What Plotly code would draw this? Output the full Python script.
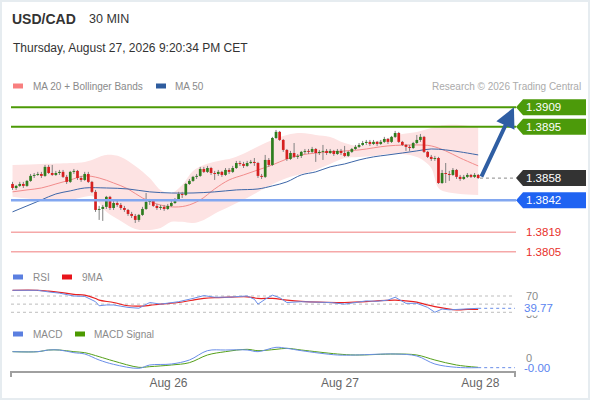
import plotly.graph_objects as go

# USD/CAD 30 min candles, index 0 = first bar on the left
opens = [
    1.38538, 1.38509, 1.38524, 1.38538, 1.38524, 1.38560, 1.38596, 1.38603, 1.38610, 1.38596,
    1.38661, 1.38617, 1.38603, 1.38617, 1.38625, 1.38589, 1.38553, 1.38625, 1.38632, 1.38581,
    1.38567, 1.38610, 1.38553, 1.38481, 1.38351, 1.38358, 1.38373, 1.38445, 1.38365, 1.38401,
    1.38387, 1.38365, 1.38351, 1.38322, 1.38308, 1.38279, 1.38315, 1.38358, 1.38409, 1.38416,
    1.38380, 1.38365, 1.38373, 1.38358, 1.38380, 1.38401, 1.38423, 1.38466, 1.38459, 1.38538,
    1.38560, 1.38589, 1.38596, 1.38646, 1.38625, 1.38653, 1.38617, 1.38610, 1.38625, 1.38603,
    1.38639, 1.38625, 1.38653, 1.38689, 1.38682, 1.38668, 1.38689, 1.38697, 1.38689, 1.38596,
    1.38589, 1.38711, 1.38675, 1.38869, 1.38913, 1.38855, 1.38783, 1.38718, 1.38761, 1.38733,
    1.38740, 1.38769, 1.38776, 1.38769, 1.38790, 1.38761, 1.38769, 1.38776, 1.38761, 1.38776,
    1.38754, 1.38776, 1.38761, 1.38740, 1.38769, 1.38790, 1.38805, 1.38819, 1.38833, 1.38841,
    1.38826, 1.38841, 1.38826, 1.38841, 1.38862, 1.38841, 1.38877, 1.38905, 1.38841, 1.38819,
    1.38805, 1.38797, 1.38833, 1.38855, 1.38877, 1.38769, 1.38733, 1.38718, 1.38725, 1.38545,
    1.38617, 1.38610, 1.38603, 1.38639, 1.38589, 1.38574, 1.38589, 1.38603, 1.38589, 1.38603,
]
highs = [
    1.38553, 1.38531, 1.38553, 1.38553, 1.38567, 1.38610, 1.38617, 1.38625, 1.38625, 1.38675,
    1.38675, 1.38675, 1.38632, 1.38639, 1.38639, 1.38603, 1.38632, 1.38646, 1.38639, 1.38596,
    1.38625, 1.38625, 1.38560, 1.38495, 1.38380, 1.38387, 1.38452, 1.38452, 1.38416, 1.38416,
    1.38401, 1.38380, 1.38358, 1.38337, 1.38322, 1.38322, 1.38373, 1.38473, 1.38430, 1.38423,
    1.38394, 1.38387, 1.38387, 1.38394, 1.38416, 1.38437, 1.38481, 1.38481, 1.38545, 1.38574,
    1.38596, 1.38610, 1.38661, 1.38661, 1.38668, 1.38661, 1.38632, 1.38639, 1.38632, 1.38653,
    1.38653, 1.38668, 1.38704, 1.38704, 1.38697, 1.38704, 1.38711, 1.38725, 1.38697, 1.38610,
    1.38747, 1.38725, 1.38877, 1.38927, 1.38920, 1.38862, 1.38790, 1.38776, 1.38833, 1.38754,
    1.38776, 1.38790, 1.38790, 1.38805, 1.38797, 1.38783, 1.38819, 1.38790, 1.38790, 1.38783,
    1.38790, 1.38790, 1.38812, 1.38776, 1.38797, 1.38819, 1.38833, 1.38848, 1.38855, 1.38855,
    1.38855, 1.38848, 1.38855, 1.38877, 1.38869, 1.38884, 1.38920, 1.38913, 1.38848, 1.38826,
    1.38819, 1.38841, 1.38891, 1.38898, 1.38884, 1.38776, 1.38747, 1.38740, 1.38733, 1.38639,
    1.38689, 1.38632, 1.38653, 1.38646, 1.38603, 1.38603, 1.38617, 1.38610, 1.38617, 1.38610,
]
lows = [
    1.38495, 1.38495, 1.38517, 1.38509, 1.38517, 1.38553, 1.38581, 1.38596, 1.38581, 1.38589,
    1.38610, 1.38596, 1.38596, 1.38603, 1.38581, 1.38538, 1.38545, 1.38610, 1.38567, 1.38553,
    1.38560, 1.38545, 1.38473, 1.38337, 1.38279, 1.38272, 1.38358, 1.38351, 1.38351, 1.38373,
    1.38351, 1.38337, 1.38308, 1.38293, 1.38257, 1.38265, 1.38308, 1.38351, 1.38387, 1.38373,
    1.38351, 1.38351, 1.38344, 1.38351, 1.38373, 1.38394, 1.38416, 1.38437, 1.38452, 1.38531,
    1.38553, 1.38574, 1.38589, 1.38617, 1.38617, 1.38603, 1.38567, 1.38596, 1.38589, 1.38596,
    1.38610, 1.38617, 1.38646, 1.38668, 1.38653, 1.38661, 1.38682, 1.38668, 1.38581, 1.38574,
    1.38581, 1.38661, 1.38668, 1.38862, 1.38848, 1.38769, 1.38704, 1.38711, 1.38725, 1.38718,
    1.38725, 1.38754, 1.38754, 1.38761, 1.38697, 1.38747, 1.38711, 1.38747, 1.38754, 1.38740,
    1.38747, 1.38747, 1.38733, 1.38733, 1.38761, 1.38783, 1.38797, 1.38812, 1.38819, 1.38812,
    1.38819, 1.38812, 1.38819, 1.38833, 1.38826, 1.38833, 1.38869, 1.38833, 1.38812, 1.38776,
    1.38776, 1.38790, 1.38826, 1.38841, 1.38761, 1.38725, 1.38704, 1.38704, 1.38538, 1.38538,
    1.38545, 1.38560, 1.38596, 1.38574, 1.38560, 1.38567, 1.38581, 1.38581, 1.38581, 1.38574,
]
closes = [
    1.38509, 1.38524, 1.38538, 1.38524, 1.38560, 1.38596, 1.38603, 1.38610, 1.38596, 1.38661,
    1.38617, 1.38603, 1.38617, 1.38625, 1.38589, 1.38553, 1.38625, 1.38632, 1.38581, 1.38567,
    1.38610, 1.38553, 1.38481, 1.38351, 1.38358, 1.38373, 1.38445, 1.38365, 1.38401, 1.38387,
    1.38365, 1.38351, 1.38322, 1.38308, 1.38279, 1.38315, 1.38358, 1.38409, 1.38416, 1.38380,
    1.38365, 1.38373, 1.38358, 1.38380, 1.38401, 1.38423, 1.38466, 1.38459, 1.38538, 1.38560,
    1.38589, 1.38596, 1.38646, 1.38625, 1.38653, 1.38617, 1.38610, 1.38625, 1.38603, 1.38639,
    1.38625, 1.38653, 1.38689, 1.38682, 1.38668, 1.38689, 1.38697, 1.38689, 1.38596, 1.38589,
    1.38711, 1.38675, 1.38869, 1.38913, 1.38855, 1.38783, 1.38718, 1.38761, 1.38733, 1.38740,
    1.38769, 1.38776, 1.38769, 1.38790, 1.38761, 1.38769, 1.38776, 1.38761, 1.38776, 1.38754,
    1.38776, 1.38761, 1.38740, 1.38769, 1.38790, 1.38805, 1.38819, 1.38833, 1.38841, 1.38826,
    1.38841, 1.38826, 1.38841, 1.38862, 1.38841, 1.38877, 1.38905, 1.38841, 1.38819, 1.38805,
    1.38797, 1.38833, 1.38855, 1.38877, 1.38769, 1.38733, 1.38718, 1.38725, 1.38545, 1.38617,
    1.38610, 1.38603, 1.38639, 1.38589, 1.38574, 1.38589, 1.38603, 1.38589, 1.38603, 1.38581,
]

# Bollinger bands (20)
band_idx = [0, 8, 16, 20, 22, 24, 26, 30, 34, 38, 41, 44, 47, 50, 53, 57, 61, 65, 70, 76,
            80, 84, 88, 92, 96, 100, 104, 108, 112, 114, 116, 118, 120, 124, 129]
band_upper = [1.38675, 1.38682, 1.38689, 1.38697, 1.38711, 1.38733, 1.38747, 1.38733, 1.38668, 1.38581,
              1.38495, 1.38473, 1.38531, 1.38632, 1.38675, 1.38704, 1.38725, 1.38769, 1.38833, 1.38891,
              1.38905, 1.38891, 1.38877, 1.38833, 1.38812, 1.38841, 1.38869, 1.38898, 1.38913, 1.38927,
              1.38941, 1.38956, 1.38963, 1.38963, 1.38949]
band_lower = [1.38445, 1.38423, 1.38423, 1.38445, 1.38452, 1.38401, 1.38337, 1.38272, 1.38214, 1.38207,
              1.38221, 1.38265, 1.38265, 1.38257, 1.38279, 1.38337, 1.38387, 1.38437, 1.38509, 1.38581,
              1.38610, 1.38639, 1.38682, 1.38725, 1.38733, 1.38740, 1.38754, 1.38754, 1.38733, 1.38704,
              1.38653, 1.38509, 1.38481, 1.38466, 1.38459]

ma20_idx = [0, 4, 8, 12, 16, 20, 24, 28, 32, 36, 40, 44, 48, 52, 56, 60, 64, 68, 72, 76,
            80, 88, 96, 104, 112, 116, 120, 124, 129]
ma20 = [1.38481, 1.38495, 1.38509, 1.38538, 1.38567, 1.38596, 1.38581, 1.38545, 1.38502, 1.38437,
        1.38394, 1.38373, 1.38380, 1.38423, 1.38502, 1.38567, 1.38603, 1.38639, 1.38675, 1.38718,
        1.38747, 1.38769, 1.38783, 1.38812, 1.38819, 1.38812, 1.38776, 1.38725, 1.38668]

ma50_idx = [0, 4, 8, 12, 16, 20, 26, 32, 38, 44, 50, 56, 62, 68, 72, 76, 80, 84, 88, 92,
            96, 100, 104, 108, 112, 116, 120, 124, 129]
ma50 = [1.38337, 1.38380, 1.38423, 1.38466, 1.38488, 1.38509, 1.38509, 1.38502, 1.38481, 1.38473,
        1.38473, 1.38481, 1.38495, 1.38502, 1.38524, 1.38553, 1.38603, 1.38625, 1.38661, 1.38682,
        1.38711, 1.38733, 1.38747, 1.38761, 1.38776, 1.38790, 1.38783, 1.38769, 1.38747]

# RSI + 9MA
rsi_idx = [0, 4, 7, 10, 13, 17, 20, 23, 24, 26, 28, 30, 32, 35, 38, 41, 44, 46, 50, 53,
           56, 60, 63, 65, 67, 68, 70, 72, 74, 76, 80, 85, 88, 92, 95, 98, 101, 104, 106, 109,
           112, 115, 117, 119, 121, 123, 126, 129]
rsi = [84, 85, 84, 80, 77, 70, 69, 56, 46, 48, 48, 45, 42, 40, 54, 50, 53, 56, 64, 71,
       67, 67, 69, 70, 62, 50, 62, 72, 66, 54, 56, 54, 54, 50, 54, 58, 57, 60, 67, 52,
       52, 42, 30, 38, 36, 37, 38, 39.77]
rsi_ma_idx = [0, 7, 10, 13, 17, 20, 23, 24, 28, 32, 35, 38, 41, 46, 50, 53, 56, 60, 65, 68,
              72, 76, 80, 85, 92, 98, 101, 106, 109, 112, 115, 117, 123, 126, 129]
rsi_ma = [84, 84, 82, 79, 74, 72, 64, 60, 54, 46, 45, 47, 50, 54, 60, 64, 66, 67, 68, 64,
          64, 60, 57, 55, 54, 56, 58, 60, 58, 55, 48, 44, 36, 37, 37]
rsi_levels = [70, 50, 30]

# MACD + signal
macd_idx = [0, 7, 10, 13, 17, 20, 24, 28, 35, 38, 44, 49, 54, 59, 65, 68, 73, 76, 80, 90,
            95, 106, 112, 117, 123, 129]
macd = [0.00019, 0.00019, 0.00024, 0.00024, 0.00016, 0.00012, -0.00006, -0.00019, -0.00031, -0.00021,
        -0.00018, -0.00006, 0.00022, 0.00024, 0.00024, 0.00019, 0.00032, 0.00029, 0.00022, 0.00009,
        0.00009, 0.00012, 0.00006, -0.00018, -0.00028, -0.00029]
macd_signal = [0.00019, 0.00019, 0.00024, 0.00024, 0.00019, 0.00016, 0.00004, -0.00009, -0.00028, -0.00026,
               -0.00021, -0.00014, 0.00009, 0.00019, 0.00026, 0.00022, 0.00026, 0.00029, 0.00024, 0.00012,
               0.00009, 0.00012, 0.00009, -0.00006, -0.00021, -0.00028]

day_ticks = [43.2, 90.7, 129.6]
day_labels = ["Aug 26", "Aug 27", "Aug 28"]

resistances = [1.3909, 1.3895]
support = 1.3842
supports_far = [1.3819, 1.3805]
last_price = 1.3858

W, H = 590, 400
ML, MR, MT, MB = 11, 75, 0, 29
FONT = "Liberation Sans, Arial, sans-serif"


def fx(px):
    # pixel -> paper x
    return (px - ML) / (W - ML - MR)


def fy(py):
    # pixel -> paper y
    return (H - MB - py) / (H - MT - MB)


# candles as line segments so they sit above the band fill
wick_x, wick_y = [], []
up_x, up_y, dn_x, dn_y = [], [], [], []
for i, (o, h, l, c) in enumerate(zip(opens, highs, lows, closes)):
    wick_x += [i, i, None]
    wick_y += [l, h, None]
    if c >= o:
        up_x += [i, i, None]
        up_y += [o, c, None]
    else:
        dn_x += [i, i, None]
        dn_y += [o, c, None]

fig = go.Figure()

# bollinger area
fig.add_trace(go.Scatter(x=band_idx, y=band_upper, mode="lines", line=dict(width=0, shape="spline"),
                         hoverinfo="skip"))
fig.add_trace(go.Scatter(x=band_idx, y=band_lower, mode="lines", line=dict(width=0, shape="spline"),
                         fill="tonexty", fillcolor="#fde3e3", hoverinfo="skip"))
fig.add_trace(go.Scatter(x=ma20_idx, y=ma20, mode="lines",
                         line=dict(color="#f28c8c", width=1, shape="spline"), hoverinfo="skip"))
fig.add_trace(go.Scatter(x=ma50_idx, y=ma50, mode="lines",
                         line=dict(color="#3d66a8", width=1, shape="spline"), hoverinfo="skip"))

fig.add_trace(go.Scatter(x=wick_x, y=wick_y, mode="lines", line=dict(color="#808080", width=1),
                         hoverinfo="skip"))
fig.add_trace(go.Scatter(x=up_x, y=up_y, mode="lines", line=dict(color="#2e7d1f", width=2.7),
                         hoverinfo="skip"))
fig.add_trace(go.Scatter(x=dn_x, y=dn_y, mode="lines", line=dict(color="#d62020", width=2.7),
                         hoverinfo="skip"))

# RSI panel
fig.add_trace(go.Scatter(x=rsi_ma_idx, y=rsi_ma, yaxis="y2", mode="lines",
                         line=dict(color="#e82020", width=1.2, shape="spline"), hoverinfo="skip"))
fig.add_trace(go.Scatter(x=rsi_idx, y=rsi, yaxis="y2", mode="lines",
                         line=dict(color="#6a8ee8", width=1), hoverinfo="skip"))

# MACD panel
fig.add_trace(go.Scatter(x=macd_idx, y=macd_signal, yaxis="y3", mode="lines",
                         line=dict(color="#55a01a", width=1, shape="spline"), hoverinfo="skip"))
fig.add_trace(go.Scatter(x=macd_idx, y=macd, yaxis="y3", mode="lines",
                         line=dict(color="#6a8ee8", width=1, shape="spline"), hoverinfo="skip"))

shapes = []
ann = []


def text(t, xp, yp, size, color, bold=False, anchor="left"):
    ann.append(dict(text=f"<b>{t}</b>" if bold else t, x=fx(xp), y=fy(yp), xref="paper", yref="paper",
                    xanchor=anchor, yanchor="middle", showarrow=False,
                    font=dict(size=size, color=color, family=FONT)))


def swatch(x0, yp, color):
    shapes.append(dict(type="rect", xref="paper", yref="paper", x0=fx(x0), x1=fx(x0 + 10),
                       y0=fy(yp + 2.5), y1=fy(yp - 2.5), fillcolor=color, line=dict(width=0)))


# header
text("USD/CAD", 10, 18.5, 14, "#333333", bold=True)
text("30 MIN", 87, 18.5, 12.5, "#333333")
text("Thursday, August 27, 2026 9:20:34 PM CET", 11, 48, 12, "#333333")

swatch(13, 86, "#f87f7f")
text("MA 20 + Bollinger Bands", 31, 86, 10, "#8a8a8a")
swatch(156, 86, "#2e5c9e")
text("MA 50", 173, 86, 10, "#8a8a8a")
text("Research © 2026 Trading Central", 583, 86, 10, "#ababab", anchor="right")

swatch(13, 277, "#5b7fe0")
text("RSI", 31, 277, 10, "#8a8a8a")
swatch(62, 277, "#e8141b")
text("9MA", 80, 277, 10, "#8a8a8a")
swatch(13, 334, "#5b7fe0")
text("MACD", 31, 334, 10, "#8a8a8a")
swatch(75, 334, "#4c9a00")
text("MACD Signal", 92, 334, 10, "#8a8a8a")

# key levels
for lv in resistances:
    shapes.append(dict(type="line", xref="paper", yref="y", x0=0, x1=fx(516), y0=lv, y1=lv,
                       line=dict(color="#4c9a06", width=2)))
shapes.append(dict(type="line", xref="paper", yref="y", x0=0, x1=fx(516), y0=support, y1=support,
                   line=dict(color="#82a7f0", width=2.5)))
for lv in supports_far:
    shapes.append(dict(type="line", xref="paper", yref="y", x0=0, x1=fx(516), y0=lv, y1=lv,
                       line=dict(color="#f5a8a8", width=1.5)))
shapes.append(dict(type="line", xref="x", yref="y", x0=len(closes) - 0.5, x1=140, y0=last_price,
                   y1=last_price, line=dict(color="#888888", width=1, dash="dot")))

box_levels = resistances + [last_price, support]
box_colors = ["#4c9a0a", "#4c9a0a", "#333333", "#1f63f2"]
for lv, col in zip(box_levels, box_colors):
    shapes.append(dict(type="path", xref="paper", yref="y", xsizemode="pixel", ysizemode="pixel",
                       xanchor=fx(516), yanchor=lv, path="M0,0L7,8L70,8L70,-8L7,-8Z",
                       fillcolor=col, line=dict(width=0)))
    ann.append(dict(text=f"{lv:.4f}", x=fx(524), y=lv, xref="paper", yref="y", xanchor="left",
                    yanchor="middle", showarrow=False, font=dict(size=11.5, color="white", family=FONT)))
for lv in supports_far:
    ann.append(dict(text=f"{lv:.4f}", x=fx(524), y=lv, xref="paper", yref="y", xanchor="left",
                    yanchor="middle", showarrow=False, font=dict(size=11.5, color="#e8302a", family=FONT)))

# forecast arrow
ann.append(dict(text="", x=138.9, y=resistances[0], xref="x", yref="y",
                ax=len(closes) - 0.3, ay=last_price, axref="x", ayref="y",
                showarrow=True, arrowhead=2, arrowsize=1, arrowwidth=4, arrowcolor="#2f5ea3"))

# RSI guides and labels
for lv in rsi_levels:
    shapes.append(dict(type="line", xref="paper", yref="y2", x0=0, x1=1, y0=lv, y1=lv, layer="below",
                       line=dict(color="#bdbdbd", width=1, dash="dot")))
shapes.append(dict(type="line", xref="x", yref="y2", x0=rsi_idx[-1], x1=140, y0=rsi[-1], y1=rsi[-1],
                   line=dict(color="#6a8ee8", width=1, dash="dot")))
shapes.append(dict(type="line", xref="x", yref="y3", x0=macd_idx[-1], x1=140, y0=macd[-1], y1=macd[-1],
                   line=dict(color="#6a8ee8", width=1, dash="dot")))
ann.append(dict(text="70", x=fx(524), y=70, xref="paper", yref="y2", xanchor="left", yanchor="middle",
                showarrow=False, font=dict(size=11, color="#8a8a8a", family=FONT)))
# the 30 label sits mostly behind the current-value tag, as on the source chart
ann.append(dict(text="30", x=fx(524), y=27, xref="paper", yref="y2", xanchor="left", yanchor="middle",
                showarrow=False, font=dict(size=11, color="#8a8a8a", family=FONT)))
ann.append(dict(text=f"{rsi[-1]:.2f}", x=fx(522), y=rsi[-1], xref="paper", yref="y2", xanchor="left",
                yanchor="middle", showarrow=False, bgcolor="white", borderpad=1,
                font=dict(size=11.5, color="#5b84f0", family=FONT)))
ann.append(dict(text="0", x=fx(524), y=0, xref="paper", yref="y3", xanchor="left", yanchor="middle",
                showarrow=False, font=dict(size=11, color="#8a8a8a", family=FONT)))
ann.append(dict(text=f"{macd[-1]:.2f}", x=fx(522), y=macd[-1], xref="paper", yref="y3", xanchor="left",
                yanchor="middle", showarrow=False,
                font=dict(size=11.5, color="#5b84f0", family=FONT)))

# axis end ticks + outer frame
for xe in (0, 1):
    shapes.append(dict(type="line", xref="paper", yref="paper", x0=xe, x1=xe, y0=fy(371), y1=fy(377),
                       line=dict(color="#a0a0a0", width=2)))
shapes.append(dict(type="rect", xref="paper", yref="paper", x0=fx(1), x1=fx(589), y0=fy(399), y1=fy(1),
                   line=dict(color="#e6ecf0", width=2)))

fig.update_layout(
    width=W, height=H,
    margin=dict(l=ML, r=MR, t=MT, b=MB),
    paper_bgcolor="white", plot_bgcolor="white",
    showlegend=False,
    font=dict(family=FONT),
    xaxis=dict(domain=[0, 1], range=[-0.42, 139.2], anchor="y3", showline=True, linecolor="#a0a0a0",
               linewidth=2, ticks="", tickvals=day_ticks, ticktext=day_labels,
               tickfont=dict(size=12, color="#666666"), showgrid=False, zeroline=False,
               fixedrange=True),
    yaxis=dict(domain=[fy(262), fy(88)], range=[1.37976, 1.39229], visible=False, fixedrange=True),
    yaxis2=dict(domain=[fy(325), fy(283)], range=[-1.2, 101.9], visible=False, fixedrange=True),
    yaxis3=dict(domain=[0, fy(340)], range=[-0.00039, 0.00054], visible=False, fixedrange=True),
    shapes=shapes,
    annotations=ann,
)

# page body has a default 8px margin; drop it so the figure sits at the window corner
fig.write_html("out.html", config={"displayModeBar": False},
               post_script="document.body.style.margin='0';")
